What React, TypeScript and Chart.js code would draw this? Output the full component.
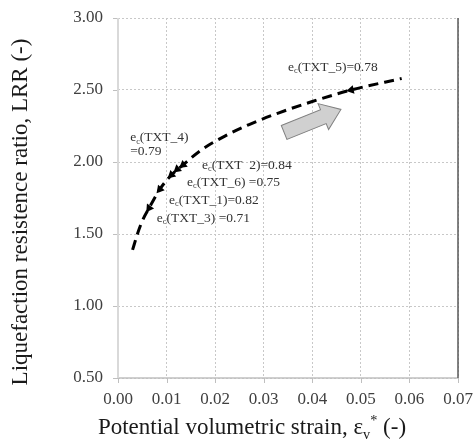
import React, { useEffect, useRef } from "react";
import { Chart, registerables } from "chart.js";
Chart.register(...registerables);

// Fitted LRR curve
const curveX = [0.003, 0.004, 0.005, 0.0064, 0.0086, 0.011, 0.0134, 0.017, 0.022, 0.027, 0.033, 0.04, 0.048, 0.0584];
const curveY = [1.39, 1.5, 1.59, 1.68, 1.81, 1.91, 1.98, 2.08, 2.18, 2.26, 2.34, 2.42, 2.5, 2.58];

// Test markers (small arrowheads on the curve)
const markerX = [0.0064, 0.0086, 0.011, 0.0122, 0.0134, 0.048];
const markerY = [1.68, 1.81, 1.91, 1.95, 1.98, 2.5];
const markerRot = [215, 220, 228, 230, 232, 258];

// Annotation texts (e_c with subscript c) and anchors (data coords, left/middle)
const labelNames = ["(TXT_5)=0.78", "(TXT_4)", "(TXT  2)=0.84", "(TXT_6) =0.75", "(TXT_1)=0.82", "(TXT_3) =0.71"];
const labelX = [0.035, 0.0025, 0.0173, 0.0142, 0.0105, 0.008];
const labelY = [2.66, 2.167, 1.979, 1.861, 1.736, 1.611];
const extraText = "=0.79";
const extraX = 0.0025;
const extraY = 2.07;

// Gray direction arrow (data coords tail -> tip)
const arrowTail = [0.0342, 2.205];
const arrowTip = [0.0459, 2.365];

const xTicks = [0, 0.01, 0.02, 0.03, 0.04, 0.05, 0.06, 0.07];
const yTicks = [0.5, 1.0, 1.5, 2.0, 2.5, 3.0];

const xTitleParts = [
  { t: "Potential volumetric strain, ε" },
  { t: "v", sub: true },
  { t: "*", sup: true },
  { t: " (-)" },
];
const yTitle = "Liquefaction resistence ratio, LRR (-)";

const FONT = '"Liberation Serif", "Times New Roman", serif';

function drawRich(ctx: CanvasRenderingContext2D, x: number, y: number, parts: any[], size: number, color: string) {
  let cx = x;
  ctx.fillStyle = color;
  ctx.textBaseline = "middle";
  ctx.textAlign = "left";
  for (const p of parts) {
    const s = p.sub || p.sup ? size * 0.62 : size;
    ctx.font = `${s}px ${FONT}`;
    const dy = p.sub ? size * 0.3 : p.sup ? -size * 0.3 : 0;
    ctx.fillText(p.t, cx, y + dy);
    cx += ctx.measureText(p.t).width;
  }
  return cx;
}

const decorPlugin = {
  id: "decor",
  beforeDatasetsDraw(chart: any) {
    const { ctx, chartArea: a, scales } = chart;
    const xs = scales.x, ys = scales.y;
    ctx.save();
    // tick marks
    ctx.strokeStyle = "#bfbfbf";
    ctx.lineWidth = 1;
    ctx.beginPath();
    for (const v of yTicks) {
      const py = Math.round(ys.getPixelForValue(v)) + 0.5;
      ctx.moveTo(a.left - 5, py);
      ctx.lineTo(a.left, py);
    }
    for (const v of xTicks) {
      const px = Math.round(xs.getPixelForValue(v)) + 0.5;
      ctx.moveTo(px, a.bottom);
      ctx.lineTo(px, a.bottom + 5);
    }
    ctx.stroke();
    // bottom axis
    ctx.strokeStyle = "#bfbfbf";
    ctx.lineWidth = 1.5;
    ctx.beginPath();
    ctx.moveTo(a.left, a.bottom);
    ctx.lineTo(a.right, a.bottom);
    ctx.stroke();
    // left axis
    ctx.strokeStyle = "#d9d9d9";
    ctx.lineWidth = 2;
    ctx.beginPath();
    ctx.moveTo(a.left, a.top);
    ctx.lineTo(a.left, a.bottom);
    ctx.stroke();
    // right border
    ctx.strokeStyle = "#595959";
    ctx.lineWidth = 1.5;
    ctx.beginPath();
    ctx.moveTo(a.right, a.top);
    ctx.lineTo(a.right, a.bottom);
    ctx.stroke();
    ctx.restore();
  },
  afterDatasetsDraw(chart: any) {
    const { ctx, chartArea: a, scales } = chart;
    const xs = scales.x, ys = scales.y;
    ctx.save();
    // gray block arrow
    const x0 = xs.getPixelForValue(arrowTail[0]);
    const y0 = ys.getPixelForValue(arrowTail[1]);
    const x1 = xs.getPixelForValue(arrowTip[0]);
    const y1 = ys.getPixelForValue(arrowTip[1]);
    const ang = Math.atan2(y1 - y0, x1 - x0);
    const len = Math.hypot(x1 - x0, y1 - y0);
    const bh = 7.5, hh = 14, hl = 19;
    ctx.translate(x0, y0);
    ctx.rotate(ang);
    ctx.beginPath();
    ctx.moveTo(0, -bh);
    ctx.lineTo(len - hl, -bh);
    ctx.lineTo(len - hl, -hh);
    ctx.lineTo(len, 0);
    ctx.lineTo(len - hl, hh);
    ctx.lineTo(len - hl, bh);
    ctx.lineTo(0, bh);
    ctx.closePath();
    ctx.fillStyle = "#d0d0d0";
    ctx.fill();
    ctx.strokeStyle = "#808080";
    ctx.lineWidth = 1;
    ctx.stroke();
    ctx.restore();

    ctx.save();
    // annotations
    for (let i = 0; i < labelNames.length; i++) {
      const px = xs.getPixelForValue(labelX[i]);
      const py = ys.getPixelForValue(labelY[i]);
      drawRich(ctx, px, py, [{ t: "e" }, { t: "c", sub: true }, { t: labelNames[i] }], 13.5, "#333333");
    }
    drawRich(ctx, xs.getPixelForValue(extraX), ys.getPixelForValue(extraY), [{ t: extraText }], 13.5, "#333333");

    // axis titles
    const XT = 23;
    let w = 0;
    for (const p of xTitleParts) {
      ctx.font = `${p.sub || p.sup ? XT * 0.62 : XT}px ${FONT}`;
      w += ctx.measureText(p.t).width;
    }
    drawRich(ctx, 252 - w / 2, 428, xTitleParts, XT, "#1a1a1a");

    ctx.translate(21, 212);
    ctx.rotate(-Math.PI / 2);
    ctx.font = `23px ${FONT}`;
    ctx.fillStyle = "#1a1a1a";
    ctx.textAlign = "center";
    ctx.textBaseline = "middle";
    ctx.fillText(yTitle, 0, 0);
    ctx.restore();
  },
};

export default function App() {
  const ref = useRef<HTMLCanvasElement | null>(null);
  useEffect(() => {
    if (!ref.current) return;
    const curve = curveX.map((x, i) => ({ x, y: curveY[i] }));
    const markers = markerX.map((x, i) => ({ x, y: markerY[i] }));
    const chart = new Chart(ref.current, {
      type: "scatter",
      data: {
        datasets: [
          {
            data: curve,
            showLine: true,
            borderColor: "#000000",
            borderWidth: 3,
            borderDash: [10, 6],
            pointRadius: 0,
            cubicInterpolationMode: "monotone",
            fill: false,
          } as any,
          {
            data: markers,
            showLine: false,
            pointStyle: "triangle",
            pointRadius: 5,
            pointRotation: markerRot,
            backgroundColor: "#000000",
            borderColor: "#000000",
            borderWidth: 0,
          } as any,
        ],
      },
      options: {
        animation: false,
        responsive: true,
        maintainAspectRatio: false,
        layout: { padding: { left: 0, right: 16, top: 18, bottom: 0 } },
        plugins: { legend: { display: false }, tooltip: { enabled: false } },
        scales: {
          x: {
            type: "linear",
            min: 0,
            max: 0.07,
            afterBuildTicks: (s: any) => {
              s.ticks = xTicks.map((v) => ({ value: v }));
            },
            afterFit: (s: any) => {
              s.height = 64;
              s.paddingLeft = 0;
              s.paddingRight = 0;
            },
            ticks: {
              callback: (v: any) => Number(v).toFixed(2),
              font: { family: FONT, size: 17 },
              color: "#404040",
              padding: 11,
              maxRotation: 0,
            },
            grid: { color: "#c8c8c8", lineWidth: 1, drawTicks: false },
            border: { display: false, dash: [2, 2] },
          },
          y: {
            type: "linear",
            min: 0.5,
            max: 3.0,
            afterBuildTicks: (s: any) => {
              s.ticks = yTicks.map((v) => ({ value: v }));
            },
            afterFit: (s: any) => {
              s.width = 118;
              s.paddingTop = 0;
              s.paddingBottom = 0;
            },
            ticks: {
              callback: (v: any) => Number(v).toFixed(2),
              font: { family: FONT, size: 17 },
              color: "#404040",
              padding: 15,
            },
            grid: { color: "#c8c8c8", lineWidth: 1, drawTicks: false },
            border: { display: false, dash: [2, 2] },
          },
        },
      } as any,
      plugins: [decorPlugin],
    });
    return () => chart.destroy();
  }, []);
  return (
    <div style={{ position: "fixed", left: 0, top: 0, width: 474, height: 442, background: "#ffffff" }}>
      <canvas ref={ref} />
    </div>
  );
}
